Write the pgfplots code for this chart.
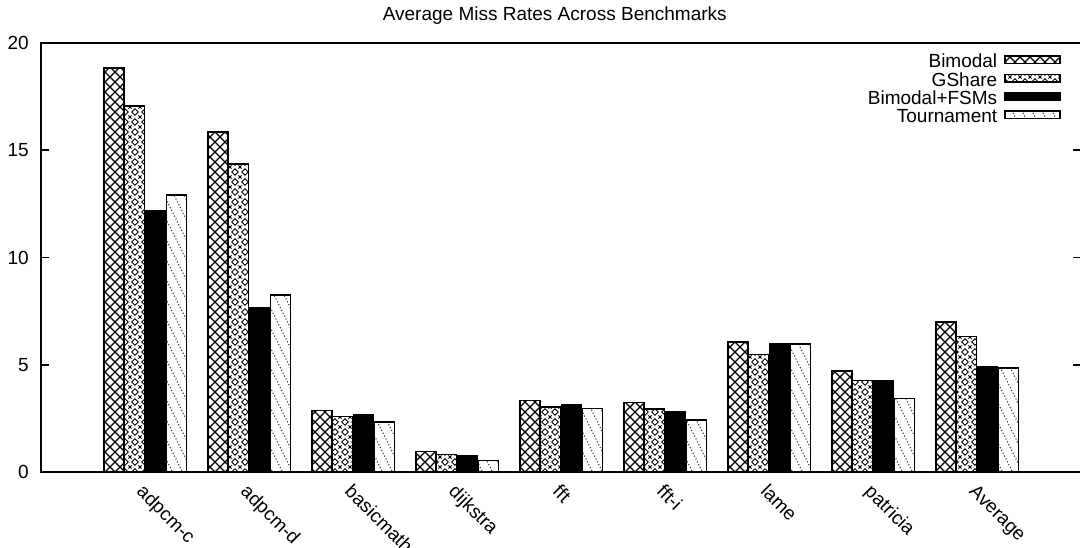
\documentclass[border=0pt]{standalone}
\usepackage{pgfplots}
\pgfplotsset{compat=1.18}
\usepackage{pgfplotstable}
\usepackage{fontspec}
\setmainfont{Liberation Sans}
\usetikzlibrary{patterns.meta}

\tikzdeclarepattern{
  name=bigcross,
  bottom left={(-0.5pt,-0.5pt)}, top right={(5.5pt,5.5pt)},
  tile size={(5pt,5pt)},
  code={\draw[line width=0.55pt] (-0.3pt,-0.3pt)--(5.3pt,5.3pt) (-0.3pt,5.3pt)--(5.3pt,-0.3pt);}
}
\tikzdeclarepattern{
  name=diacross,
  bottom left={(-0.5pt,-0.5pt)}, top right={(5.5pt,5.5pt)},
  tile size={(5pt,5pt)},
  code={\draw[line width=0.45pt] (2.5pt,0.9pt)--(4.1pt,2.5pt)--(2.5pt,4.1pt)--(0.9pt,2.5pt)--cycle;
        \draw[line width=0.45pt] (0pt,0pt)--(0.8pt,0.8pt) (5pt,0pt)--(4.2pt,0.8pt) (0pt,5pt)--(0.8pt,4.2pt) (5pt,5pt)--(4.2pt,4.2pt);}
}
\tikzdeclarepattern{
  name=dotlines,
  bottom left={(-0.5pt,-0.5pt)}, top right={(5.5pt,10.5pt)},
  tile size={(5pt,10pt)},
  code={\draw[line width=0.5pt, dash pattern=on 0.6pt off 1pt] (0pt,10pt)--(5pt,0pt);}
}

\pgfplotstableread{
x  bim   gsh   fsm   tour
0  18.83 17.06 12.17 12.91
1  15.85 14.36 7.65  8.25
2  2.86  2.58  2.67  2.33
3  0.95  0.83  0.74  0.55
4  3.34  3.03  3.15  2.97
5  3.23  2.93  2.79  2.43
6  6.06  5.49  6.00  5.97
7  4.71  4.27  4.25  3.43
8  6.99  6.33  4.93  4.84
}\missdata

\pgfplotsset{
  mylegend/.style={legend image code/.code={\draw[##1] (0pt,-0.2pt) rectangle (27.5pt,3.6pt);}},
}

\begin{document}
\begin{tikzpicture}
\begin{axis}[
  scale only axis, width=520pt, height=214.5pt,
  xmin=-1, xmax=9, ymin=0, ymax=20,
  ybar=0.4pt, bar width=10pt,
  xtick={0,...,8},
  xticklabels={adpcm-c,adpcm-d,basicmath,dijkstra,fft,fft-i,lame,patricia,Average},
  ytick={0,5,10,15,20},
  tick align=inside, major tick length=4pt,
  xtick pos=bottom, ytick pos=both,
  axis line style={line width=0.8pt},
  tick style={line width=0.8pt, black},
  font=\fontsize{9.5}{11.4}\selectfont,
  /pgf/number format/assume math mode=true,
  yticklabel style={xshift=-2.6pt},
  xticklabel style={rotate=-45, anchor=north west, inner sep=1pt, xshift=3pt, yshift=-2.5pt},
  title={Average Miss Rates Across Benchmarks},
  title style={at={(0.494,1)}, anchor=base, yshift=5.2pt},
  legend style={at={(1,1)}, anchor=north east, xshift=-10pt, yshift=-5.25pt,
    draw=none, fill=none, inner sep=0pt, column sep=3.5pt, row sep=0pt,
    nodes={inner ysep=0pt, inner xsep=0pt, text height=6.9pt, text depth=2.3pt}},
  legend cell align=right,
  legend plot pos=right,
  every axis plot/.append style={line width=0.7pt, draw=black},
]
\addplot[fill=white, postaction={pattern=bigcross}, mylegend] table[x=x, y=bim] {\missdata};
\addplot[fill=white, postaction={pattern=diacross}, mylegend] table[x=x, y=gsh] {\missdata};
\addplot[fill=black, mylegend] table[x=x, y=fsm] {\missdata};
\addplot[fill=white, postaction={pattern=dotlines, pattern color=black!80}, mylegend] table[x=x, y=tour] {\missdata};
\legend{Bimodal,GShare,Bimodal+FSMs,Tournament}
\end{axis}
\pgfresetboundingbox
\path[use as bounding box] ([xshift=-20.5pt,yshift=-37.5pt]current axis.south west) rectangle ++(540pt,273.5pt);
\end{tikzpicture}
\end{document}
